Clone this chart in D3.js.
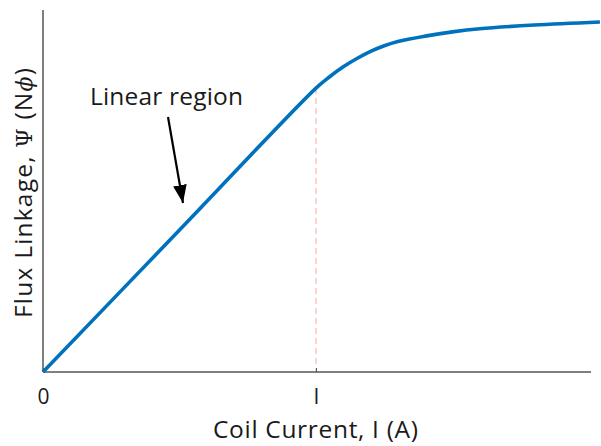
<!DOCTYPE html>
<html><head><meta charset="utf-8">
<script src="https://cdn.jsdelivr.net/npm/d3@7"></script>
<style>body{margin:0;background:#fff}svg{display:block}text{font-family:"Open Sans",sans-serif;fill:#1a1a1a}</style>
</head><body><div id="chart"></div>
<script>
const current = [0, 0.5, 1.0, 1.05, 1.1, 1.15, 1.2, 1.25, 1.3, 1.4, 1.5, 1.6, 1.8, 2.04];
const flux    = [0, 0.5, 1.0, 1.04, 1.075, 1.104, 1.129, 1.149, 1.164, 1.183, 1.198, 1.209, 1.222, 1.233];
const xTickValues = [0, 1];
const xTickLabels = ["0", "I"];
const markerCurrent = 1.0;
const annotation = "Linear region";

const W = 601, H = 446;
const svg = d3.select("#chart").append("svg").attr("width", W).attr("height", H);
const x = d3.scaleLinear().domain([0, 2]).range([43, 589]);
const y = d3.scaleLinear().domain([0, 1.275]).range([372, 10]);

// marker dashed line
const yAtMarker = flux[current.indexOf(markerCurrent)];
svg.append("line")
  .attr("x1", x(markerCurrent)).attr("x2", x(markerCurrent))
  .attr("y1", y(yAtMarker)).attr("y2", y(0))
  .attr("stroke", "#ffb3b3").attr("stroke-width", 1.2).attr("stroke-dasharray", "6,4");

// axes
const xAxis = d3.axisBottom(x).tickValues(xTickValues).tickFormat((d,i)=>xTickLabels[i]).tickSizeInner(-4).tickSizeOuter(0).tickPadding(17);
const gx = svg.append("g").attr("transform", `translate(0,${y(0)})`).call(xAxis);
gx.select(".domain").attr("stroke", "#555").attr("stroke-width", 1.5).attr("d", `M${x(0)},0H${x(2)+2}`);
gx.selectAll(".tick line").attr("stroke", "#555");
gx.selectAll(".tick text").attr("font-size", 21).attr("font-family", "Open Sans, sans-serif").attr("fill", "#1a1a1a");

svg.append("line").attr("x1", x(0)).attr("x2", x(0)).attr("y1", y(0)).attr("y2", y(1.275))
  .attr("stroke", "#555").attr("stroke-width", 1.5);

// curve
const pts = current.map((c,i)=>[c, flux[i]]);
svg.append("path").datum(pts)
  .attr("fill", "none").attr("stroke", "#0072BD").attr("stroke-width", 3.6)
  .attr("d", d3.line().x(d=>x(d[0])).y(d=>y(d[1])).curve(d3.curveCatmullRom.alpha(0.5)));

// axis titles
svg.append("text").attr("x", 315.5).attr("y", 438).attr("text-anchor", "middle").attr("font-size", 24.5)
  .attr("textLength", 205).attr("lengthAdjust", "spacing")
  .text("Coil Current, I (A)");

const yt = svg.append("text").attr("transform", "translate(32,193) rotate(-90)").attr("text-anchor", "middle").attr("font-size", 24.5)
  .attr("textLength", 250).attr("lengthAdjust", "spacing");
yt.append("tspan").text("Flux Linkage, ");
yt.append("tspan").attr("font-family", "DejaVu Serif, serif").attr("font-size", 22).text("Ψ");
yt.append("tspan").text(" (N");
yt.append("tspan").attr("font-family", "DejaVu Serif, serif").attr("font-style", "italic").attr("font-size", 22).text("ϕ");
yt.append("tspan").text(")");

// annotation
svg.append("defs").append("marker").attr("id", "ah").attr("viewBox", "0 0 10 10")
  .attr("refX", 10).attr("refY", 5).attr("markerWidth", 18).attr("markerHeight", 18)
  .attr("markerUnits", "userSpaceOnUse").attr("orient", "auto")
  .append("path").attr("d", "M0,1.2L10,5L0,8.8Z").attr("fill", "#000");
svg.append("text").attr("x", 166.5).attr("y", 105).attr("text-anchor", "middle").attr("font-size", 24.5)
  .attr("textLength", 153).attr("lengthAdjust", "spacing").text(annotation);
svg.append("line").attr("x1", 168).attr("y1", 117).attr("x2", 183).attr("y2", 203)
  .attr("stroke", "#000").attr("stroke-width", 2.2).attr("marker-end", "url(#ah)");
</script></body></html>
